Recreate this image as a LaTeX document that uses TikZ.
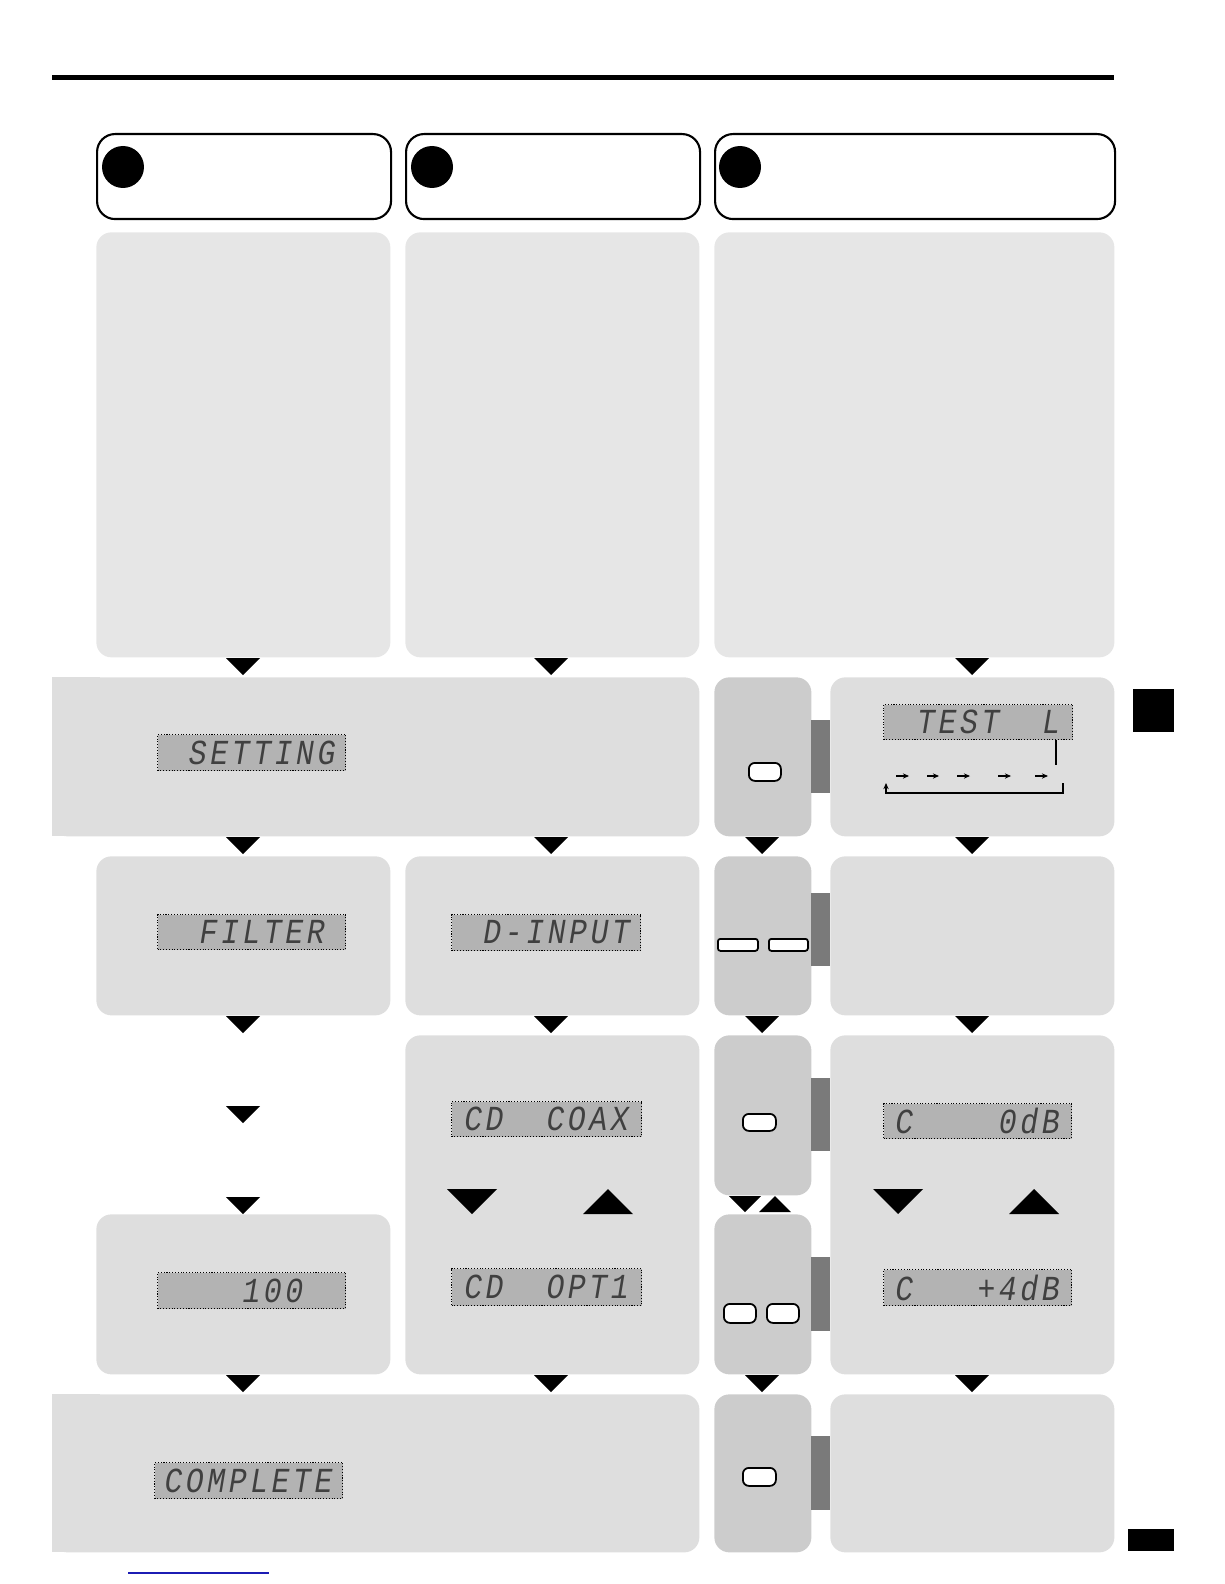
\documentclass[tikz,border=0pt]{standalone}
\usepackage{fontspec}
\newfontfamily\lcdfont[LetterSpace=10, FakeStretch=0.85]{Liberation Mono}
\usepackage{tikz}
\usetikzlibrary{arrows.meta,positioning}
\definecolor{paneltop}{HTML}{E6E6E6}
\definecolor{panelrow}{HTML}{DEDEDE}
\definecolor{keygray}{HTML}{CCCCCC}
\definecolor{tabgray}{HTML}{7A7A7A}
\definecolor{lcdgray}{HTML}{B3B3B3}
\definecolor{lcdink}{HTML}{404040}
\definecolor{linkblue}{HTML}{1C1CB4}
\tikzset{
  box/.style 2 args={
    rectangle, anchor=north west, inner sep=0pt,
    minimum width=#1*0.02cm, minimum height=#2*0.02cm
  },
  headbox/.style={draw=black, line width=1.2pt, fill=white, rounded corners=0.36cm},
  stepdot/.style={circle, fill=black, inner sep=0pt, minimum size=0.84cm},
  tallpanel/.style={fill=paneltop, rounded corners=0.3cm},
  rowpanel/.style={fill=panelrow, rounded corners=0.3cm},
  keypanel/.style={fill=keygray, rounded corners=0.3cm},
  tabbox/.style={fill=tabgray},
  lcd/.style={
    fill=lcdgray, draw=black, densely dotted, line width=0.6pt,
    text=lcdink, font=\lcdfont\itshape\fontsize{20}{20}\selectfont
  },
  keybtn/.style={fill=white, draw=black, line width=1pt, rounded corners=0.12cm},
  seqarrow/.style={-{Stealth[length=3.5pt,width=3pt]}, line width=0.6pt},
}
% flow triangle: centre x, top y, width
\newcommand\flowdown[3]{\fill (#1-#3/2,#2) -- ++(#3,0) -- ++(-#3/2,#3/2) -- cycle;}
\newcommand\flowup[3]{\fill (#1-#3/2,#2+#3/2) -- ++(#3,0) -- ++(-#3/2,-#3/2) -- cycle;}
\begin{document}
\begin{tikzpicture}[x=0.02cm, y=-0.02cm]
  \useasboundingbox (0,0) rectangle (1224,1584);

  % page rule and side marks
  \fill (52,75) rectangle (1114,80);
  \fill (1133,689) rectangle (1174,732);
  \fill (1128,1529) rectangle (1174,1551);
  \draw[linkblue, line width=0.7pt] (128,1573) -- (269,1573);

  % step headers
  \node[box={294}{85}, headbox] (head1) at (96,133) {};
  \node[box={294}{85}, headbox] (head2) at (405,133) {};
  \node[box={400}{85}, headbox] (head3) at (714,133) {};
  \node[stepdot] (dot1) at (123,167) {};
  \node[stepdot] (dot2) at (432,167) {};
  \node[stepdot] (dot3) at (740,167) {};

  % tall panels
  \node[box={294}{425}, tallpanel] (tallA) at (96,232) {};
  \node[box={294}{425}, tallpanel] (tallB) at (405,232) {};
  \node[box={400}{425}, tallpanel] (tallC) at (714,232) {};
  \flowdown{243}{658}{34}
  \flowdown{551}{658}{34}
  \flowdown{972}{658}{34}

  % row 1
  \node[box={647}{159}, rowpanel] (setrow) at (52,677) {};
  \fill[panelrow] (52,677) rectangle (100,836);
  \node[box={97}{159}, keypanel] (key1) at (714,677) {};
  \node[box={19}{73}, tabbox] (tab1) at (811,720) {};
  \node[box={284}{159}, rowpanel] (testrow) at (830,677) {};
  \node[box={188}{36}, lcd] (lcdset) at (157,734) {~SETTING};
  \node[box={189}{35}, lcd] (lcdtest) at (883,704) {~TEST~~L};
  \node[box={32}{18}, keybtn] (btn1) at (748,762) {};
  \coordinate (tap) at (1056,765);
  \draw[line width=0.6pt] (lcdtest.south -| tap) -- (tap);
  \foreach \a/\b in {896/909, 927/939, 957/970, 998/1011, 1035/1048}
    \draw[seqarrow] (\a,776) -- (\b,776);
  \coordinate (loopR) at (1063,783);
  \coordinate (loopL) at (886,783);
  \draw[seqarrow] (loopR) -- (1063,793) -- (886,793) -- (loopL);

  \flowdown{243}{837}{34}
  \flowdown{551}{837}{34}
  \flowdown{762}{837}{34}
  \flowdown{972}{837}{34}

  % row 2
  \node[box={294}{159}, rowpanel] (filtrow) at (96,856) {};
  \node[box={294}{159}, rowpanel] (inrow) at (405,856) {};
  \node[box={97}{159}, keypanel] (key2) at (714,856) {};
  \node[box={19}{73}, tabbox] (tab2) at (811,893) {};
  \node[box={284}{159}, rowpanel] (chrow) at (830,856) {};
  \node[box={188}{35}, lcd] (lcdfilt) at (157,914) {~FILTER~};
  \node[box={189}{36}, lcd] (lcdin) at (451,914) {~D-INPUT};
  \node[box={40}{12}, keybtn, rounded corners=0.05cm] (btn2a) at (717,938) {};
  \node[box={39}{12}, keybtn, rounded corners=0.05cm] (btn2b) at (768,938) {};

  \flowdown{243}{1016}{34}
  \flowdown{551}{1016}{34}
  \flowdown{762}{1016}{34}
  \flowdown{972}{1016}{34}

  % rows 3 and 4
  \flowdown{243}{1106}{34}
  \flowdown{243}{1197}{34}
  \node[box={294}{339}, rowpanel] (digrow) at (405,1035) {};
  \node[box={97}{160}, keypanel] (key3) at (714,1035) {};
  \node[box={19}{73}, tabbox] (tab3) at (811,1078) {};
  \node[box={284}{339}, rowpanel] (levrow) at (830,1035) {};
  \node[box={190}{35}, lcd] (lcdcoax) at (451,1101) {CD~~COAX};
  \node[box={188}{35}, lcd] (lcdzero) at (883,1103) {C~~~~0dB};
  \node[box={33}{17}, keybtn] (btn3) at (742,1113) {};
  \flowdown{472}{1189}{50}
  \flowup{608}{1189}{50}
  \flowdown{898}{1189}{50}
  \flowup{1034}{1189}{50}
  \flowdown{745}{1196}{32}
  \flowup{775}{1196}{32}

  \node[box={294}{160}, rowpanel] (delrow) at (96,1214) {};
  \node[box={97}{160}, keypanel] (key4) at (714,1214) {};
  \node[box={19}{74}, tabbox] (tab4) at (811,1257) {};
  \node[box={188}{36}, lcd] (lcddel) at (157,1272) {~~~100~~};
  \node[box={190}{37}, lcd] (lcdopt) at (451,1268) {CD~~OPT1};
  \node[box={188}{36}, lcd] (lcdfour) at (883,1269) {C~~~+4dB};
  \node[box={32}{19}, keybtn] (btn4a) at (723,1303) {};
  \node[box={32}{19}, keybtn] (btn4b) at (766,1303) {};

  \flowdown{243}{1375}{34}
  \flowdown{551}{1375}{34}
  \flowdown{762}{1375}{34}
  \flowdown{972}{1375}{34}

  % row 5
  \node[box={647}{158}, rowpanel] (donerow) at (52,1394) {};
  \fill[panelrow] (52,1394) rectangle (100,1552);
  \node[box={97}{158}, keypanel] (key5) at (714,1394) {};
  \node[box={19}{74}, tabbox] (tab5) at (811,1436) {};
  \node[box={284}{158}, rowpanel] (endrow) at (830,1394) {};
  \node[box={188}{36}, lcd] (lcddone) at (154,1462) {COMPLETE};
  \node[box={33}{18}, keybtn] (btn5) at (742,1467) {};
\end{tikzpicture}
\end{document}
